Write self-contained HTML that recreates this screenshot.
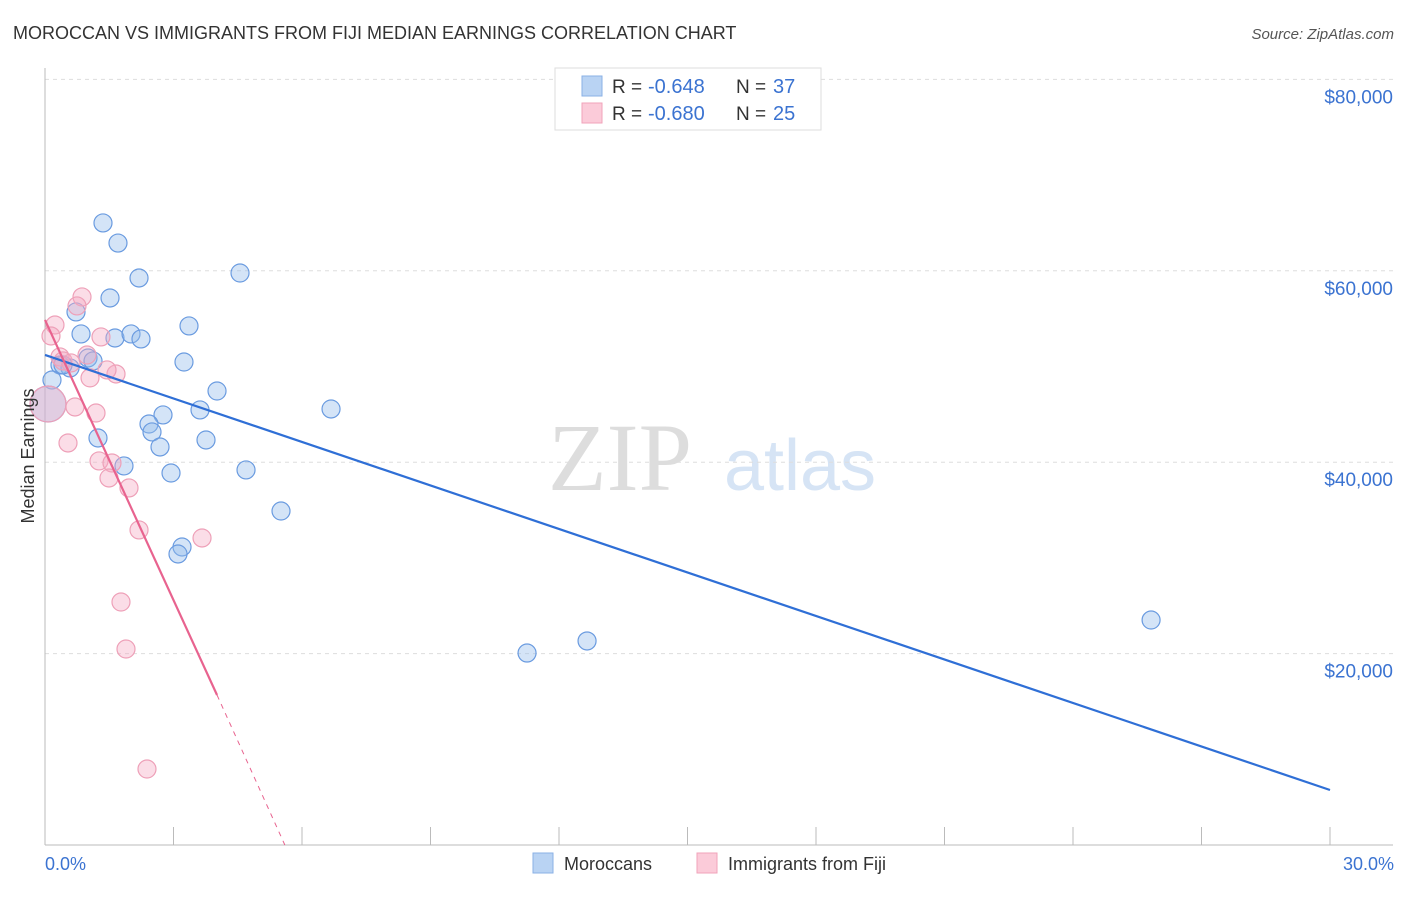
<!DOCTYPE html>
<html><head><meta charset="utf-8"><style>
body{margin:0;background:#fff;font-family:"Liberation Sans",sans-serif;}
</style></head><body>
<svg id="c" width="1406" height="892" xmlns="http://www.w3.org/2000/svg">
<text x="13" y="39" font-size="18" fill="#333">MOROCCAN VS IMMIGRANTS FROM FIJI MEDIAN EARNINGS CORRELATION CHART</text>
<text x="1394" y="39" font-size="15" fill="#555" font-style="italic" text-anchor="end">Source: ZipAtlas.com</text>
<text x="620" y="490" font-size="96" fill="#ddd" font-family="Liberation Serif,serif" text-anchor="middle">ZIP</text>
<text x="800" y="490" font-size="72" fill="#d6e4f5" text-anchor="middle">atlas</text>
<g id="grid"></g><g id="axes"></g><g id="pts"></g><g id="lines"></g>
<text x="34" y="456" font-size="18" fill="#333" text-anchor="middle" transform="rotate(-90 34 456)">Median Earnings</text>
<text x="45" y="870" font-size="18" fill="#3b73d1">0.0%</text>
<text x="1394" y="870" font-size="18" fill="#3b73d1" text-anchor="end">30.0%</text>
<g>
<rect x="555" y="68" width="266" height="62" fill="#fff" stroke="#ddd"/>
<rect x="582" y="76" width="20" height="20" fill="#b9d3f3" stroke="#8ab0e6"/>
<rect x="582" y="103" width="20" height="20" fill="#fbcbd9" stroke="#f0a3ba"/>
<text x="612" y="93" font-size="19" fill="#333">R =</text>
<text x="648" y="93" font-size="20" fill="#3b73d1">-0.648</text>
<text x="736" y="93" font-size="19" fill="#333">N =</text>
<text x="773" y="93" font-size="20" fill="#3b73d1">37</text>
<text x="612" y="120" font-size="19" fill="#333">R =</text>
<text x="648" y="120" font-size="20" fill="#3b73d1">-0.680</text>
<text x="736" y="120" font-size="19" fill="#333">N =</text>
<text x="773" y="120" font-size="20" fill="#3b73d1">25</text>
</g>
<g>
<rect x="533" y="853" width="20" height="20" fill="#b9d3f3" stroke="#8ab0e6"/>
<text x="564" y="870" font-size="18" fill="#333">Moroccans</text>
<rect x="697" y="853" width="20" height="20" fill="#fbcbd9" stroke="#f0a3ba"/>
<text x="728" y="870" font-size="18" fill="#333">Immigrants from Fiji</text>
</g>
</svg>
<script>
const yTicks=[20000,40000,60000,80000];
const yTickLabels=["$20,000","$40,000","$60,000","$80,000"];
const xTicks=[0,3,6,9,12,15,18,21,24,27,30];
const blueX=[1.354,1.704,2.195,4.553,1.518,0.724,0.841,1.634,2.008,2.241,3.362,1.004,0.35,0.584,1.121,3.245,0.163,0.07,4.016,3.619,2.755,2.428,2.498,1.237,3.759,2.685,1.844,2.942,4.693,6.678,5.51,3.199,3.105,11.254,12.655,25.823,0.42];
const blueY=[65000,62900,59250,59770,57160,55700,53400,52980,53400,52880,54240,50890,50160,49850,50580,50470,48590,46080,47440,45460,44940,43990,43160,42530,42320,41590,39610,38870,39190,45560,34900,31140,30410,20060,21320,23510,50160];
const blueBig=[17];
const pinkX=[0.864,0.747,0.233,0.14,0.35,0.42,0.981,0.607,1.307,1.051,1.658,1.448,0.7,1.191,0.537,1.261,1.564,1.494,1.961,2.195,3.666,1.774,1.891,2.381,0.07];
const pinkY=[57270,56330,54340,53190,51000,50580,51200,50370,53090,48810,49220,49640,45770,45140,42010,40130,39920,38350,37310,32920,32080,25390,20480,7940,46080];
const pinkBig=[24];
const blueTrend=[[0,51205],[30,5748]];
const pinkTrend=[[0,54862],[4.016,15675],[5.6,0]];
const NS='http://www.w3.org/2000/svg';
const X=p=>45+p*(1285/30);
const Y=v=>845-v*191.4/20000;
function mk(t,a,parent){const e=document.createElementNS(NS,t);for(const k in a)e.setAttribute(k,a[k]);document.getElementById(parent).appendChild(e);return e;}
yTicks.forEach((v,i)=>{
 const l=mk('line',{x1:45,x2:1393,y1:Y(v),y2:Y(v),stroke:'#ddd','stroke-dasharray':'4,4'},'grid');
 
 
 const t=mk('text',{x:1393,y:Y(v)+24,'font-size':19,fill:'#3b73d1','text-anchor':'end'},'grid');
 t.textContent=yTickLabels[i];
 
 
});
const ya=mk('line',{x1:45,x2:45,y1:68,y2:845,stroke:'#bbb'},'axes');


const xa=mk('line',{x1:45,x2:1393,y1:845,y2:845,stroke:'#bbb'},'axes');


xTicks.forEach(p=>{
 const t=mk('line',{x1:X(p),x2:X(p),y1:827,y2:845,stroke:'#bbb'},'axes');
 
 
});
function pts(xs,ys,big,fill,stroke,name){
 xs.forEach((p,i)=>{
  const c=mk('circle',{cx:X(p),cy:Y(ys[i]),r:big.includes(i)?18:9,fill:fill,stroke:stroke,'stroke-width':1.2},'pts');
  
  
 });
}
pts(blueX,blueY,blueBig,'rgba(147,187,235,0.4)','#6a9be0','moroccan-point');
pts(pinkX,pinkY,pinkBig,'rgba(246,170,195,0.4)','#eea0b8','fiji-point');
const bl=mk('line',{x1:X(blueTrend[0][0]),y1:Y(blueTrend[0][1]),x2:X(blueTrend[1][0]),y2:Y(blueTrend[1][1]),stroke:'#2f6fd6','stroke-width':2.2},'lines');


const pl=mk('line',{x1:X(pinkTrend[0][0]),y1:Y(pinkTrend[0][1]),x2:X(pinkTrend[1][0]),y2:Y(pinkTrend[1][1]),stroke:'#e8638f','stroke-width':2.2},'lines');


const pd=mk('line',{x1:X(pinkTrend[1][0]),y1:Y(pinkTrend[1][1]),x2:X(pinkTrend[2][0]),y2:Y(pinkTrend[2][1]),stroke:'#e8638f','stroke-width':1,'stroke-dasharray':'5,5'},'lines');


</script>
</body></html>
